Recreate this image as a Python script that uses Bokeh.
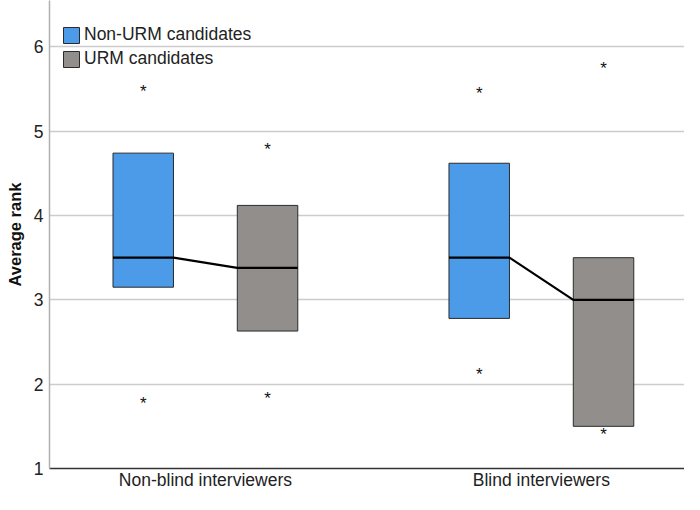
from bokeh.plotting import figure
from bokeh.models import Range1d, FixedTicker, ColumnDataSource, Legend, LegendItem
from bokeh.core.properties import value
from bokeh.embed import file_html
from bokeh.resources import INLINE

# ---- data ----
groups = ["Non-blind interviewers", "Blind interviewers"]
group_pos = [1, 2]
series = ["Non-URM candidates", "URM candidates"]

nonurm_q1 = [3.15, 2.78]
nonurm_med = [3.50, 3.50]
nonurm_q3 = [4.74, 4.62]
nonurm_out = [[5.52, 1.82], [5.49, 2.16]]

urm_q1 = [2.63, 1.50]
urm_med = [3.38, 3.00]
urm_q3 = [4.12, 3.50]
urm_out = [[4.83, 1.88], [5.79, 1.45]]

y_ticks = [1, 2, 3, 4, 5, 6]

# ---- style ----
FONT = "Liberation Sans"
BLUE = "#4b9be9"
GREY = "#918e8c"
EDGE = "#2b2b2b"
OFF = 0.185
W = 0.18
FIG_W, FIG_H = 684, 494
BORDER_B = 26
FRAME_H = FIG_H - BORDER_B

p = figure(width=FIG_W, height=FIG_H, output_backend="svg", toolbar_location=None,
           x_range=Range1d(0.536, 2.426), y_range=Range1d(1, 6.55),
           min_border_left=49, min_border_bottom=BORDER_B, min_border_top=0, min_border_right=0)
p.outline_line_color = None
p.background_fill_color = "white"
p.border_fill_color = "white"

renderers = []
for s_i, (q1, med, q3, outs, color) in enumerate([
        (nonurm_q1, nonurm_med, nonurm_q3, nonurm_out, BLUE),
        (urm_q1, urm_med, urm_q3, urm_out, GREY)]):
    xs = [g + (OFF if s_i else -OFF) for g in group_pos]
    src = ColumnDataSource(dict(x=xs, q1=q1, q3=q3))
    r = p.vbar(x="x", width=W, bottom="q1", top="q3", source=src,
               fill_color=color, line_color=EDGE, line_width=1)
    renderers.append(r)
    ox, oy = [], []
    for x, o in zip(xs, outs):
        for v in o:
            ox.append(x)
            oy.append(v)
    p.text(x=ox, y=oy, text=["*"] * len(ox), text_align="center", text_baseline="middle",
           text_font=value(FONT), text_font_size="17px", text_color="#111111", y_offset=4)

# median lines connecting medians within each group
for g_i, g in enumerate(group_pos):
    x1 = g - OFF
    x2 = g + OFF
    lx = [x1 - W / 2, x1 + W / 2, x2 - W / 2, x2 + W / 2]
    ly = [nonurm_med[g_i], nonurm_med[g_i], urm_med[g_i], urm_med[g_i]]
    p.line(lx, ly, line_color="black", line_width=2.2)

LEG_PAD, LEG_GLYPH, LEG_SPACING = 2, 20, 3
leg_h = 2 * LEG_PAD + 2 * LEG_GLYPH + LEG_SPACING
legend = Legend(items=[LegendItem(label=series[i], renderers=[renderers[i]]) for i in range(2)],
                location=(12, FRAME_H - 22 - leg_h))
legend.margin = 0
legend.padding = LEG_PAD
legend.spacing = LEG_SPACING
legend.glyph_width = LEG_GLYPH
legend.glyph_height = LEG_GLYPH
legend.label_height = LEG_GLYPH
legend.label_standoff = 3
legend.label_text_font = FONT
legend.label_text_font_size = "17.5px"
legend.label_text_color = "#222222"
legend.background_fill_alpha = 0
legend.border_line_color = None
p.add_layout(legend)

# axes
for ax in (p.xaxis, p.yaxis):
    ax.major_tick_out = 0
    ax.major_tick_in = 0
    ax.minor_tick_out = 0
    ax.minor_tick_in = 0
    ax.major_tick_line_color = None
    ax.minor_tick_line_color = None
    ax.major_label_text_font = FONT
    ax.major_label_text_font_size = "17.5px"
    ax.major_label_text_color = "#222222"

p.xaxis.ticker = FixedTicker(ticks=group_pos)
p.xaxis.major_label_overrides = {g: lab for g, lab in zip(group_pos, groups)}
p.xaxis.major_label_standoff = 1
p.xaxis.axis_label_standoff = 0
p.xaxis.axis_line_color = "#333333"
p.xaxis.axis_line_width = 1.5

p.yaxis.ticker = FixedTicker(ticks=y_ticks)
p.yaxis.major_label_standoff = 6
p.yaxis.axis_line_color = "#b0b0b0"
p.yaxis.axis_line_width = 1.5
p.yaxis.axis_label = "Average rank"
p.yaxis.axis_label_text_font = FONT
p.yaxis.axis_label_text_font_size = "16.5px"
p.yaxis.axis_label_text_font_style = "bold"
p.yaxis.axis_label_text_color = "#111111"
p.yaxis.axis_label_standoff = 7

p.xgrid.grid_line_color = None
p.ygrid.ticker = FixedTicker(ticks=y_ticks)
p.ygrid.grid_line_color = "#cccccc"
p.ygrid.grid_line_width = 1.5

open("out.html", "w").write(file_html(p, INLINE))
